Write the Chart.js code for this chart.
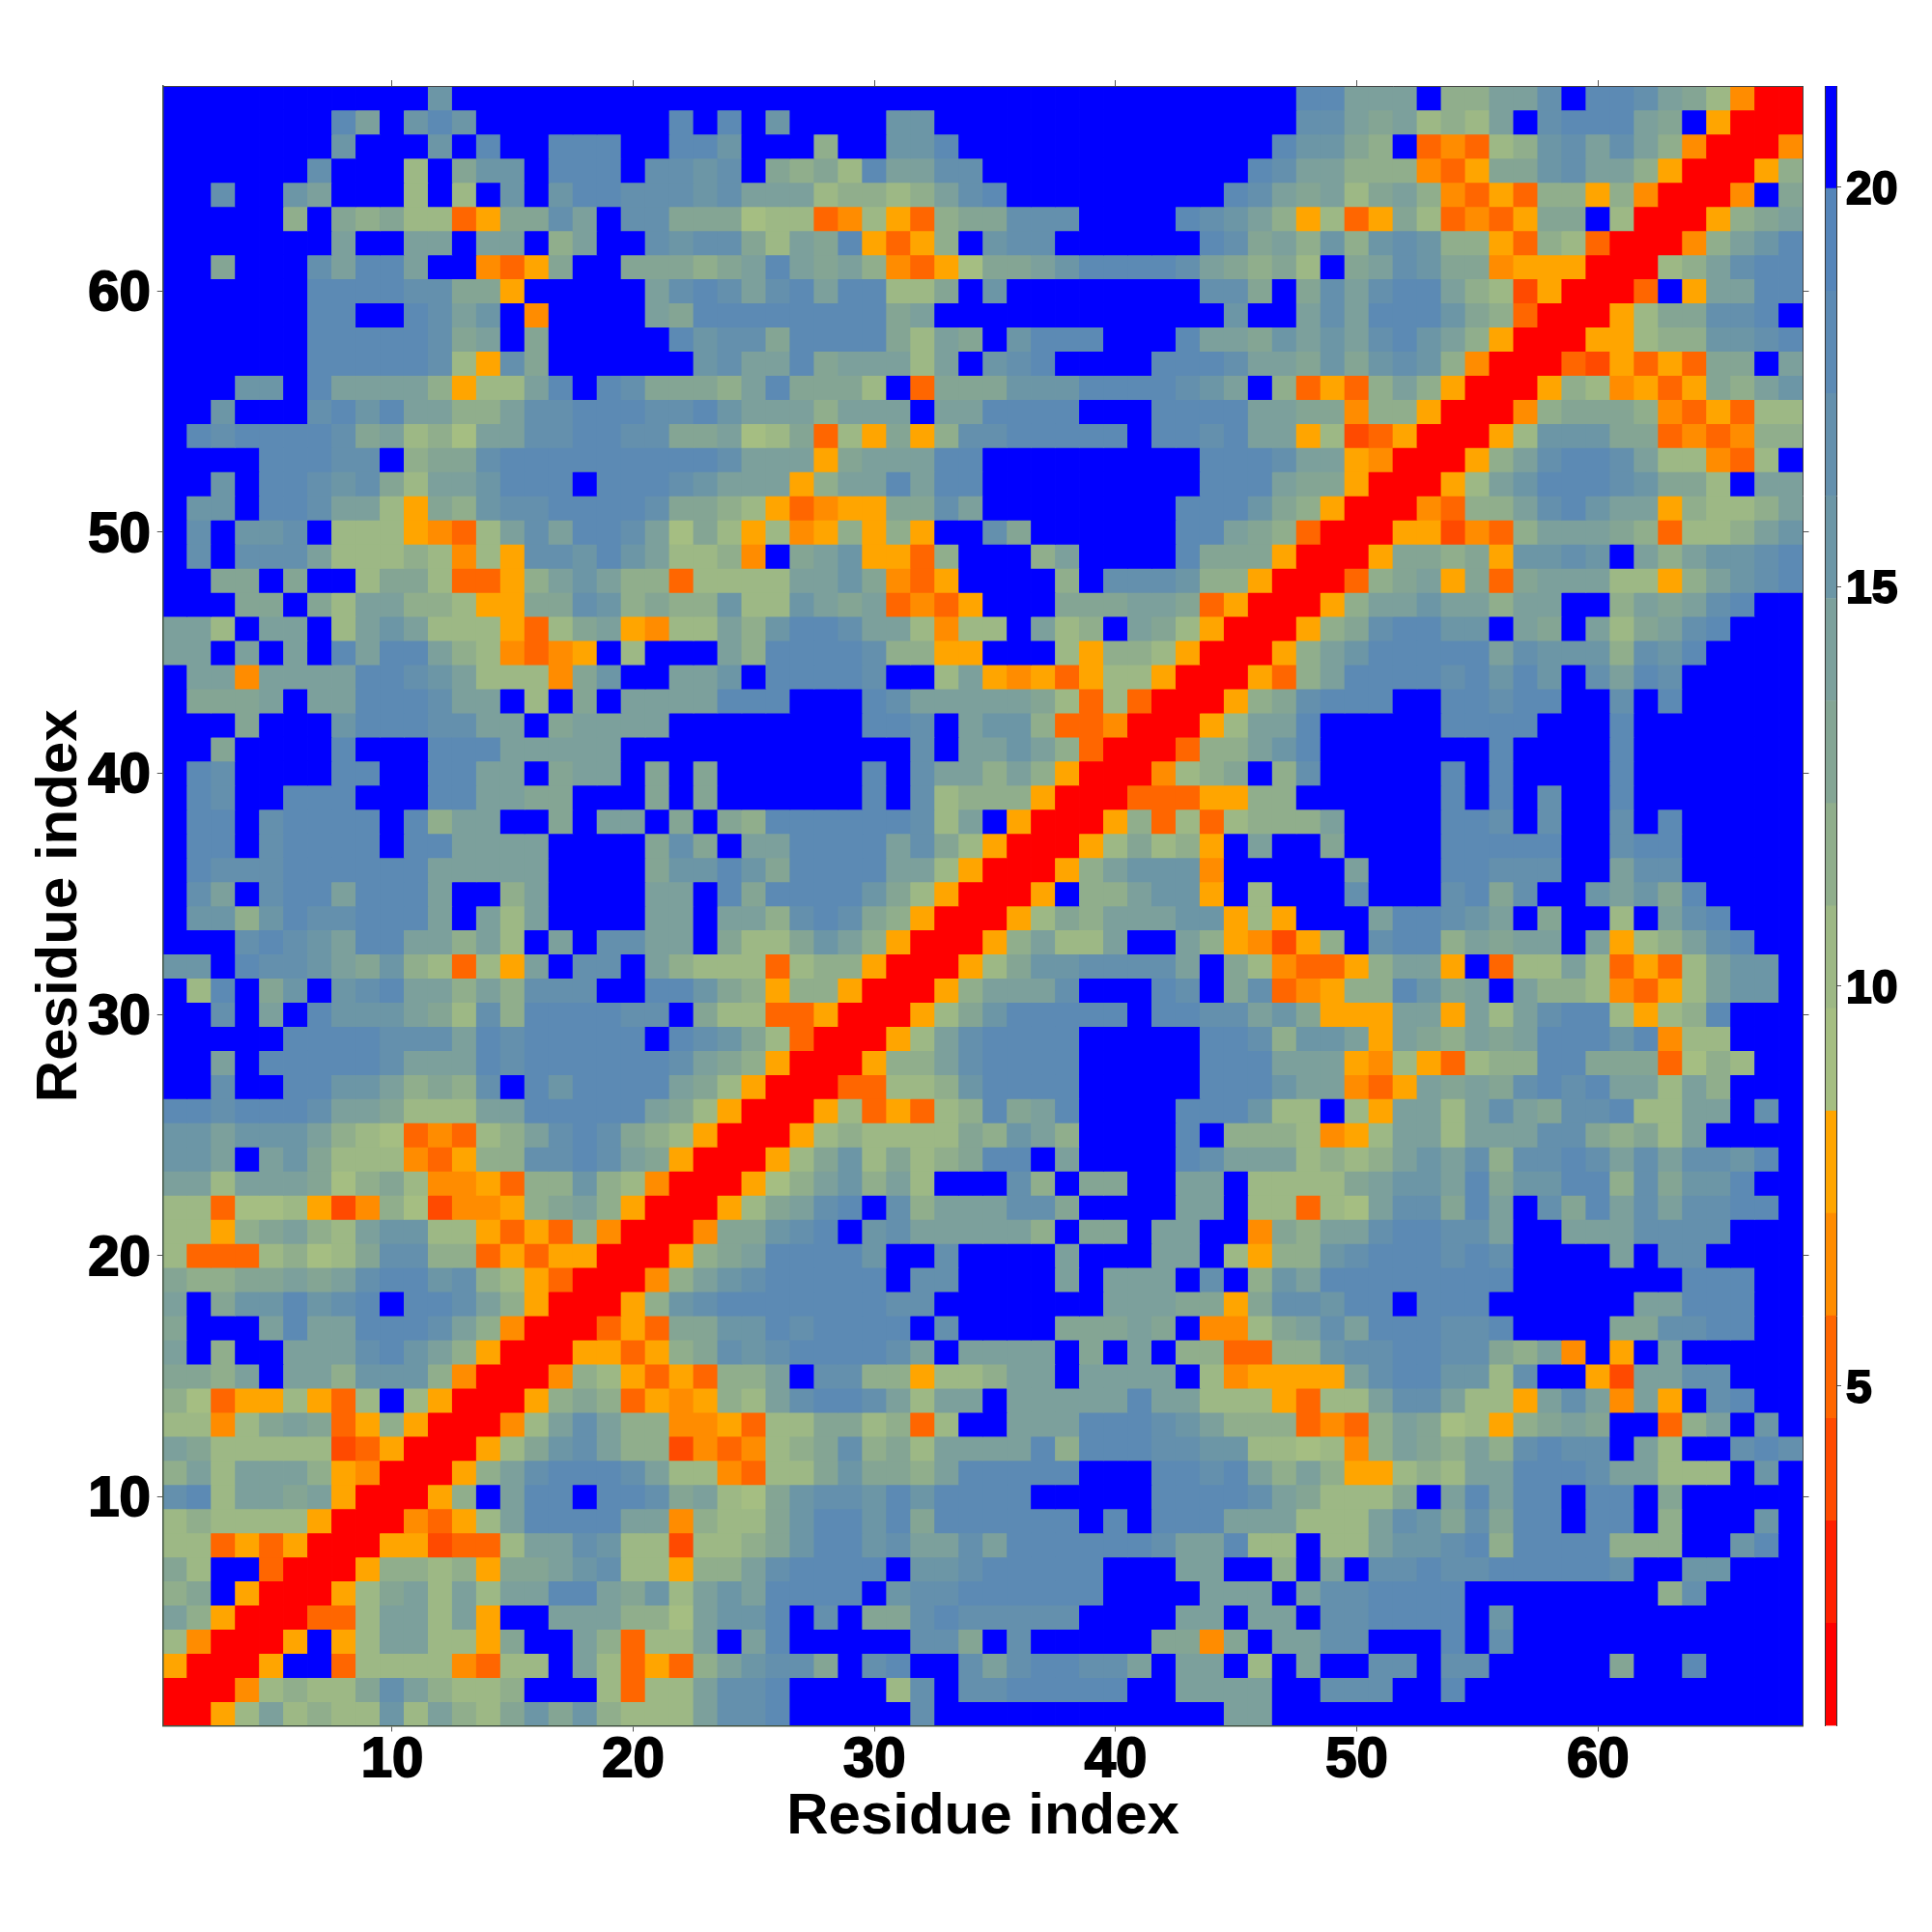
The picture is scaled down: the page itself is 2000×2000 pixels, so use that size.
<!DOCTYPE html>
<html>
<head>
<meta charset="utf-8">
<title>Residue index</title>
<script src="https://cdn.jsdelivr.net/npm/chart.js@4"></script>
<style>
  html, body { margin: 0; padding: 0; background: #fff; }
  canvas { position: absolute; left: 0; top: 0; }
</style>
</head>
<body>
<canvas id="matrixChart" width="2000" height="2000"></canvas>
<canvas id="barChart" width="2000" height="2000"></canvas>
<script>
// colour band of every cell, hex digit per residue, top row is residue 68, last row is residue 1
const bandRows = [
  'ffffffffff fbffffffff ffffffffff ffffffffff fffffffdda aaf88aacfd dca97400',
  'fffffffdaf bdbfffffff fdfdfbffff bbffffffff fffffffcca 9a787afcdd da9f5000',
  'fffffffbff fbfdffdddf fddbfff8ff bbdfffffff ffffffdbb9 8f34378bca ca840004',
  'ffffffcfff 7f9bbfdddf ccbcf9897d aaccffffff fffffdcaa8 8843599bca a8500058',
  'ffcffbafff 7f7fbfbddc ccbcaaa788 78acdfffff ffffdca9a7 9a84353885 840004f9',
  'fffff8f989 773599cafc c999677347 53899cccff ffdcba8573 597343599f 7000589a',
  'fffffffaff aafaaf8aff cbcc97a9d5 358fbccfff fffdc9a8b8 bcb8853873 00048abd',
  'ff9fffcadd aff4359ff9 9989ada9a8 435699abdd ddca9897f9 acb9945550 0078acdd',
  'ffffffdddd cc995fffff acdcacdadd 779fbfffff fffcc9f9ca cdda872500 03f5aadd',
  'ffffffddff dcabf4ffff a9dddddddd 9affffffff ffffbffaca dddb983000 5799ccdf',
  'ffffffdddd dc9af9ffff fdbcc9dddd 97a9fbdddf ffdaa9baba cdba850005 5788bbcd',
  'ffffffdddd dc75c9ffff ffbcaad9aa a7afbcdfff fdddcaa9b9 bcb8400032 535399fa',
  'fffbbfdaaa a8577adfdc 9998ad9997 f3999bbbdd ddcbaf8353 8a85000587 453598ab',
  'ffbfffcdbd aa88accddd ccdbaaa8aa afaaddddff fddddaa994 8850004899 98435377',
  'fdcddddc9a 786aaccddc c99a679375 958ccddddd fddcdaa572 3500057bbb 99343488',
  'ffffdddccf 899cdddddd dddcaaa59a aaddffffff fffdddcaa5 400058acdd ca77437f',
  'ffbfddcbc9 7aabdddfdd dcbaaa58aa daddffffff fffddda995 00057abddd cb997faa',
  'fbbfddcaa7 598bccdddd c998753455 99caffffff ffdddb9850 004388acdb aa58778a',
  'fcfbbcf777 5437acaddc a697574585 85ffc9ffff ffdda98300 0552438aaa 983778ab',
  'fcfccca777 87475ccbdb a7784f9ab5 538fff8aff ffd9995000 599895bbcb fa8abbcd',
  'ff99f9ff79 973358aba8 837777aab9 435ffff8fc ccb8850003 89a5939aaa 7758abcd',
  'fff99f97aa 8875599cb8 988b77ba9a 3435fff999 aa93500058 aabaa8aaff 8a9acdff',
  'aa7faaf7ab a7775379a5 477a8bddca a7477fa78f a975000589 cddbbfa9fa 79acdfff',
  'aafafafdad da874345f7 fffa8ddddc 8855fff758 87500058ab dddddacbbb 8cbdffff',
  'faa4aaaadd cba77749bf faabfddddc ff7a545357 75000538ad dddcdbdbfc adcfffff',
  'f999afaadd dcaaf7f9fa aaadddfffd caaaaa9737 3000589cdd dffddcddff cfdfffff',
  'fff9fffbdd dccaaf9aaa affffffffd dcfabb8334 00057aadff fffddddfff dfffffff',
  'ff9ffffdff fdddaaaaaf ffffffffff fcfaaba830 00388abdff fffffdffff dfffffff',
  'fdcffffddf fddaaf9aaf 9f9ffffffd fcaa8a8500 04789f8cff fffdfdffff dfffffff',
  'fdcffdddff fddaa99fff 9f9ffffffd fc78885000 3335588fff fffdfdfcff dfffffff',
  'fddfcddddf d8aaff9faa f9f98ddddd dc7af50005 83737888af fffddcfcff cfdfffff',
  'fddfcddddf ddaaaaffff 9c9faadddd ac97500057 9785faff9f fffdddddff cddfffff',
  'fdcccddddd daaaaaffff 9bbdb9dddd aa7500058a bbb4fffffa fffddcccff accfffff',
  'fcafcddadd daff8affff aafd9ddddb 9750005f88 abb5f7fffc fffcd9cffb ab9dffff',
  'fbb8bdccdd dafa7affff aafaa8cdc9 850005798a aabb575fff addcbaf9ff 7facdfff',
  'fffcdcbadd aa8a7fafcc aaf9779ba8 500058a77a ffa854258f cdd8a9aafa 578acdff',
  'bbfdccba9b 87375afccf a877737885 000579bbcc ccaf974335 8aa5f377a7 3537abbf',
  'f7df9bfbcd aa8a8cccff ddb9858850 0058aaacff fdcf9c3458 8db9afa887 4357abbf',
  'ffcfafdbbb a97c8ddddc cf97733500 0579bddddd fddccab955 5aa5a7acdd 7578dfff',
  'fffffddddc ccadcddddd fdcb973000 57acddddff fffddc8bba 5a98a9addd bd477fff',
  'ffafdddddc aaadcddddd dca9850005 88acddddff fffdddaaa5 4753788dd9 993687ff',
  'ffcffddbba 898cfdbddd da97500033 778bddddff fffdddbaa4 35a9a9cdcd aa7a8fff',
  'ddcdddcaa9 777aaddddd a975000573 5378d9adff ffdddb77f7 5aa7aca9cc d77aafcf',
  'bbabbba876 34378acdc9 8750005787 77798ba8ff ffdf888745 7aa7aaacc9 897affff',
  'bbafab9777 43588ccdca 95000579b7 9789ddfaff ffdcaaa787 8abac8ccdc acaccbdf',
  'aa7aaa9689 7445388b87 4000568ab8 a7fffc8f99 ffaaf77779 abbad9bbdd 8c9bbdff',
  '7736675248 6244589a85 000579acdf c8aaacc9ff ffaaf77376 acc9dafc9d acaccddf',
  '77589a87ab b775353840 00499bcdfb caaaaa8f99 faaff498aa cddccaffaa accccfff',
  '733378679c c883535500 0589addddb ffcffffaff faaf7588bc dddcdcffff afccffff',
  '98899a9acd dbc8753000 48abcddddd fccffffafa aafcf8badd ddddddffff fffdddff',
  'af9bbdbcdf ddca850005 8bcddddddd ccfffffffa aa9959ccbd dfdddfffff faadddff',
  '9fffadaadd dca8400035 399bbdcddd dfcffff999 a9f4479aca dddccdffff 99ccddff',
  'af8ffaaacd ba85000553 589cbcdddd cafaaaaf9f af883388bc cddcc98a4f 5fafffff',
  '998afaa8bb b840004875 35388afcc8 85778aafaa aaf745555a cddbb7cff5 2aaccfff',
  '863557537f 7500058983 54587acddc a7aafaaaaa daa7775377 acca775aca 4a5fcdff',
  '77479a9358 500047aca8 8445377997 837ffaaadd dcba888343 8a967589a9 ff38afbf',
  'a977777235 000579bca8 82434789c8 97aaaad8dd dccbb77674 8a98a8cdcc fa7ffcdc',
  '8a7aaa8540 0058acdddc a7743779b9 98adddddff fddcda8a85 5787aadddc aa777fbf',
  'cd7aa9a500 058faddfdd c9a769bccb dbddddffff fddddca977 79fadaddfd df9fffff',
  '7877775000 4357adddda a48779bddb d9ddddddfd fdddaaa777 acb9c9ddfd df8fffbf',
  '7735350005 52337aacb7 727789bddb caacaddddd dcaad77f77 abbcd8dddd 888ffbdf',
  '97ff300058 878599abc7 7588acdddd fbbcdddddf ffaaff8faf ccdccddddd cffbbfff',
  '89f5000579 a7a7aadda9 b7abaddddf bccddddddf fffaaafacc ddddffffff ff8cffff',
  'a85000337a a7a5ffaaa8 86abbdfcf9 9cdcccccff ffaafaafcc ddddfbffff ffffffff',
  '740005f57a a7759ffa83 77afadffff fcc9fcffff f9949faacc fffdfcffff ffffffff',
  '50005ff377 774377fa73 538abcc9fc dffcacddcc afaaf7faff ccfccfffff 9ffdffff',
  '000478779c a8778fff73 77accdffff 7cfccddddd ffaaaaffcc cffdffffff ffffffff',
  '0057a7877b 7a879b9b87 77accdffff fcffffffff ffffaaffff ffffffffff ffffffff'
];
// edges of the 16 colorbar bands
const bandMin = 0.75;
const bandMax = 21.26;
const bandColors = [
  '#ff0000', '#ff2000', '#ff4a00', '#ff6600', '#ff8c00', '#ffa500',
  '#a5be82', '#9db885', '#90ae8c', '#84a594', '#7ca09c', '#6c96a6', '#6490ad', '#5c8ab4', '#5585b9', '#0000ff'
];
const axisTitle = 'Residue index';

const FONT = 'Liberation Sans';
const INK = '#000';
const TICK = '#555';
const bandSize = (bandMax - bandMin) / bandColors.length;

function cleanRow(row) {
  return row.replace(/[^0-9a-f]/g, '');
}

// tick labels of the original sit a few pixels below their tick
function nudgeLabels(scale, dy) {
  if (scale._nudged) return;
  scale._nudged = true;
  const compute = scale._computeLabelItems.bind(scale);
  scale._computeLabelItems = area => compute(area).map(item => ({ ...item, textOffset: item.textOffset + dy }));
}

// one dataset per row of the matrix, each cell a floating bar
const matrixDatasets = bandRows.map((row, r) => {
  const residue = bandRows.length - r;
  const bands = cleanRow(row).split('').map(c => parseInt(c, 16));
  return {
    data: bands.map((b, i) => ({ x: i + 1, y: [residue - 0.5, residue + 0.5] })),
    backgroundColor: bands.map(b => bandColors[b]),
    borderWidth: 0,
    inflateAmount: 0.4
  };
});

function hiddenAxis(pos, min, max, step, size) {
  return {
    type: 'linear', position: pos, min, max, offset: false,
    ticks: { display: false, stepSize: step, includeBounds: false },
    grid: { drawOnChartArea: false, drawTicks: true, tickLength: 6, tickColor: TICK, tickWidth: 1, offset: false },
    border: { display: true, color: '#444', width: 1, z: 1 },
    afterFit(s) { if (s.isHorizontal()) s.height = size; else s.width = size; }
  };
}

new Chart(document.getElementById('matrixChart'), {
  type: 'bar',
  data: { datasets: matrixDatasets },
  options: {
    responsive: false,
    animation: false,
    devicePixelRatio: 1,
    events: [],
    grouped: false,
    categoryPercentage: 1,
    barPercentage: 1,
    layout: { padding: { left: 26.7, top: 83, right: 127.5, bottom: 83 } },
    plugins: { legend: { display: false }, tooltip: { enabled: false } },
    scales: {
      x: {
        type: 'linear', position: 'bottom', min: 0.5, max: 68.5, offset: false,
        ticks: { stepSize: 10, includeBounds: false, color: INK, textStrokeColor: INK, textStrokeWidth: 2, padding: -4, maxRotation: 0, font: { family: FONT, weight: 'bold', size: 58 } },
        grid: { drawOnChartArea: false, tickLength: 6, tickColor: TICK, tickWidth: 1, offset: false },
        border: { display: true, color: '#445544', width: 1.5, z: 1 },
        title: { display: true, text: axisTitle, color: INK, font: { family: FONT, weight: 'bold', size: 60 }, padding: 0 },
        afterFit(s) { s.height = 130.5; }
      },
      y: {
        type: 'linear', position: 'left', min: 0.5, max: 68.5, offset: false,
        ticks: { stepSize: 10, includeBounds: false, color: INK, textStrokeColor: INK, textStrokeWidth: 2, padding: 7, font: { family: FONT, weight: 'bold', size: 58 } },
        grid: { drawOnChartArea: false, tickLength: 6, tickColor: TICK, tickWidth: 1, offset: false },
        border: { display: true, color: '#445544', width: 1.5, z: 1 },
        title: { display: true, text: axisTitle, color: INK, font: { family: FONT, weight: 'bold', size: 60 }, padding: 0 },
        afterFit(s) { s.width = 142; nudgeLabels(s, 4); }
      },
      x2: hiddenAxis('top', 0.5, 68.5, 10, 6),
      y2: hiddenAxis('right', 0.5, 68.5, 10, 6)
    }
  }
});

// colorbar: one floating bar per band on its own value axis
const barDatasets = bandColors.map((color, i) => ({
  data: [[bandMin + i * bandSize, bandMin + (i + 1) * bandSize]],
  backgroundColor: color,
  borderWidth: 0,
  inflateAmount: 0.3
}));

new Chart(document.getElementById('barChart'), {
  type: 'bar',
  data: { labels: [''], datasets: barDatasets },
  options: {
    responsive: false,
    animation: false,
    devicePixelRatio: 1,
    events: [],
    grouped: false,
    categoryPercentage: 1,
    barPercentage: 1,
    layout: { padding: { left: 1889, top: 89, right: 0, bottom: 213.5 } },
    plugins: { legend: { display: false }, tooltip: { enabled: false } },
    scales: {
      x: {
        position: 'bottom',
        ticks: { display: false },
        grid: { display: false },
        border: { display: false },
        afterFit(s) { s.height = 0; }
      },
      y: {
        type: 'linear', position: 'right', min: bandMin, max: bandMax,
        ticks: { stepSize: 5, includeBounds: false, color: INK, textStrokeColor: INK, textStrokeWidth: 2, padding: 5, font: { family: FONT, weight: 'bold', size: 48 } },
        grid: { drawOnChartArea: false, tickLength: 5, tickColor: TICK, tickWidth: 1 },
        border: { display: true, color: '#333', width: 1, z: 1 },
        afterFit(s) { s.width = 99; nudgeLabels(s, 4); }
      },
      yEdge: {
        type: 'linear', position: 'left', min: bandMin, max: bandMax,
        ticks: { display: false },
        grid: { display: false },
        border: { display: true, color: '#333', width: 1, z: 1 },
        afterFit(s) { s.width = 0; }
      }
    }
  }
});
</script>
</body>
</html>
